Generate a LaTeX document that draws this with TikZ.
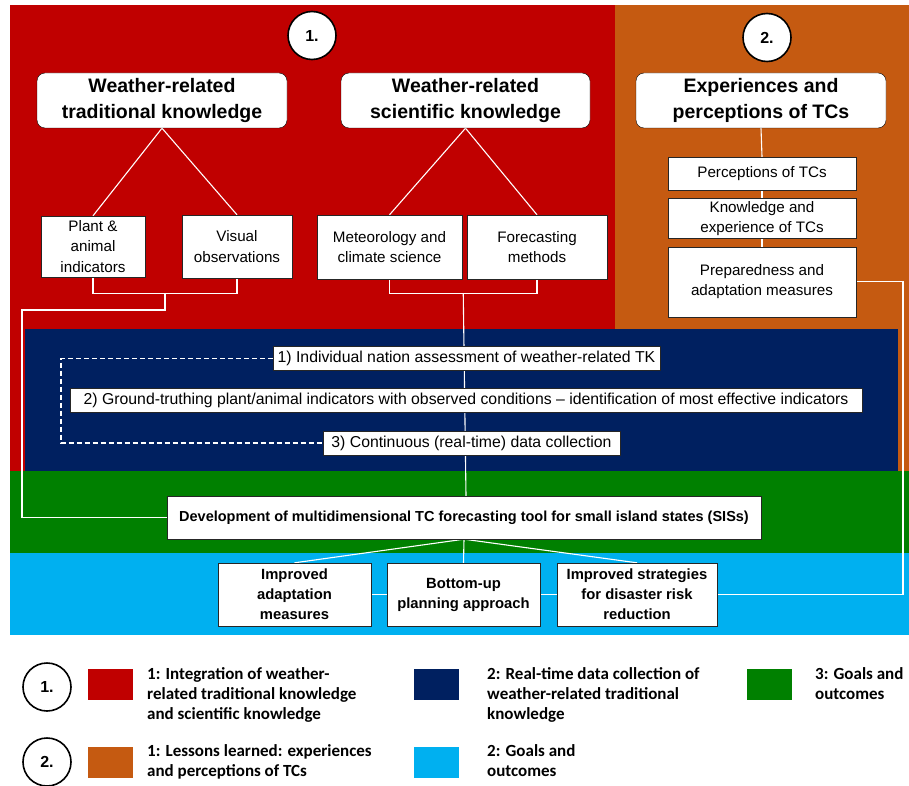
\documentclass[tikz,border=0pt]{standalone}
\usepackage{fontspec}
\setsansfont{Liberation Sans}
\newfontfamily\legendfont{Carlito}
\definecolor{tkred}{RGB}{192,0,0}
\definecolor{tcorange}{RGB}{197,90,17}
\definecolor{rtnavy}{RGB}{0,32,96}
\definecolor{goalgreen}{RGB}{0,128,0}
\definecolor{goalblue}{RGB}{0,176,240}
\tikzset{every picture/.style={/utils/exec={\sffamily}}}
\usetikzlibrary{calc}
\usetikzlibrary{positioning}
\usetikzlibrary{backgrounds}

\tikzset{
  headbox/.style={draw=black, fill=white, rounded corners=8pt, align=center,
    inner sep=2pt, font=\bfseries\fontsize{19.5}{26.5}\selectfont},
  subbox/.style={draw=black!85, fill=white, align=center, inner sep=2pt,
    font=\fontsize{15.2}{20.5}\selectfont},
  stepline/.style={subbox, font=\fontsize{15.8}{17}\selectfont, minimum height=24pt},
  goalbox/.style={subbox, font=\bfseries\fontsize{14.8}{20}\selectfont},
  wire/.style={draw=white, line width=1.1pt},
  numcirc/.style={circle, draw=black, line width=1.6pt, fill=white,
    minimum size=48pt, inner sep=0pt, font=\bfseries\fontsize{16}{18}\selectfont},
  swatch/.style={minimum width=45pt, minimum height=31pt, inner sep=0pt},
  legtext/.style={anchor=north west, align=left, inner sep=0pt,
    font=\legendfont\bfseries\fontsize{17}{20.3}\selectfont}
}

\begin{document}
\begin{tikzpicture}[x=1pt, y=-1pt]
  \useasboundingbox (0,0) rectangle (909,786);

  % headings
  \node [numcirc] (c1) at (312,35.5) {1.};
  \node [numcirc] (c2) at (767,37.5) {2.};
  \node [headbox, minimum width=250pt, minimum height=55pt] (tk) at (162,100.5) {Weather-related\\traditional knowledge};
  \node [headbox, minimum width=249pt, minimum height=55pt] (sk) at (465.5,100.5) {Weather-related\\scientific knowledge};
  \node [headbox, minimum width=250pt, minimum height=55pt] (exp) at (761,100.5) {Experiences and\\perceptions of TCs};

  % knowledge sources
  \node [subbox, minimum width=104pt, minimum height=61pt] (plant) at (93,246.5) {Plant \&\\animal\\indicators};
  \node [subbox, minimum width=110pt, minimum height=63pt] (visual) at (237,246.5) {Visual\\observations};
  \node [subbox, minimum width=145pt, minimum height=64pt] (met) at (389.5,247) {Meteorology and\\climate science};
  \node [subbox, minimum width=140pt, minimum height=64pt] (fore) at (537,247) {Forecasting\\methods};

  \node [subbox, minimum width=188pt, minimum height=33pt] (perc) at (762,173.5) {Perceptions of TCs};
  \node [subbox, minimum width=188pt, minimum height=40pt, below=8pt of perc] (know) {Knowledge and\\experience of TCs};
  \node [subbox, minimum width=188pt, minimum height=70pt, below=8pt of know] (prep) {Preparedness and\\adaptation measures};

  % real-time data collection
  \node [stepline, minimum width=387pt] (s1) at (466.5,358.5) {1) Individual nation assessment of weather-related TK};
  \node [stepline, minimum width=792pt] (s2) at (466,400) {2) Ground-truthing plant/animal indicators with observed conditions -- identification of most effective indicators};
  \node [stepline, minimum width=297pt] (s3) at (471.5,443) {3) Continuous (real-time) data collection};

  % goals and outcomes
  \node [subbox, font=\bfseries\fontsize{14.5}{16}\selectfont, minimum width=594pt, minimum height=43pt] (dev) at (464,517.5) {Development of multidimensional TC forecasting tool for small island states (SISs)};
  \node [goalbox, minimum width=153pt, minimum height=63pt] (adapt) at (294.5,594.5) {Improved\\adaptation\\measures};
  \node [goalbox, minimum width=153pt, minimum height=63pt] (bup) at (463.5,594.5) {Bottom-up\\planning approach};
  \node [goalbox, minimum width=160pt, minimum height=63pt] (strat) at (637,594.5) {Improved strategies\\for disaster risk\\reduction};

  % legend
  \node [numcirc] (l1) at (47,687) {1.};
  \node [numcirc] (l2) at (47,762) {2.};
  \node [swatch, fill=tkred] (sqred) at (110.5,684.5) {};
  \node [swatch, fill=tcorange] (sqorange) at (110.5,762) {};
  \node [swatch, fill=rtnavy] (sqnavy) at (436,684.5) {};
  \node [swatch, fill=goalblue] (sqblue) at (436,762) {};
  \node [swatch, fill=goalgreen] (sqgreen) at (769.5,684.5) {};
  \node [legtext] (t1) at (147,667) {1: Integration of weather-\\related traditional knowledge\\and scientific knowledge};
  \node [legtext] (t2) at (147,744) {1: Lessons learned: experiences\\and perceptions of TCs};
  \node [legtext] (t3) at (487,667) {2: Real-time data collection of\\weather-related traditional\\knowledge};
  \node [legtext] (t4) at (487,744) {2: Goals and\\outcomes};
  \node [legtext] (t5) at (815,667) {3: Goals and\\outcomes};

  \coordinate (tkleft) at (22,310);
  \coordinate (dashx) at (61,0);
  \coordinate (rightx) at (903,0);

  \begin{scope}[on background layer]
    % coloured regions
    \fill [tkred] (10,5) rectangle (615,472);
    \fill [tcorange] (615,5) rectangle (909,472);
    \fill [rtnavy] (25,329) rectangle (898,472);
    \fill [goalgreen] (10,471) rectangle (909,553.5);
    \fill [goalblue] (10,553) rectangle (909,635);

    \draw [wire] (tk.south) -- (plant.north);
    \draw [wire] (tk.south) -- (visual.north);
    \draw [wire] (sk.south) -- (met.north);
    \draw [wire] (sk.south) -- (fore.north);
    \draw [wire] (exp.south) -- (perc.north);
    \draw [wire] (perc.south) -- (know.north);
    \draw [wire] (know.south) -- (prep.north);

    \draw [wire] (plant.south) -- ++(0,16) -| (visual.south);
    \draw [wire] ($(plant.south)!0.5!(visual.south)+(0,16)$) |- (tkleft) |- (dev.west);
    \draw [wire] (met.south) -- ++(0,14) -| (fore.south);
    \draw [wire] ($(met.south)!0.5!(fore.south)+(0,14)$) -- (dev.north -| 466,0);
    \draw [wire, dash pattern=on 5pt off 3pt] (s1.west) -- (s1.west -| dashx) |- (s3.west);

    \draw [wire] (dev.south) -- (adapt.north);
    \draw [wire] (dev.south) -- (bup.north);
    \draw [wire] (dev.south) -- (strat.north);
    \draw [wire] (adapt.east) -- (bup.west);
    \draw [wire] (bup.east) -- (strat.west);
    \draw [wire] (prep.east) -- (prep.east -| rightx) |- (strat.east);
  \end{scope}
\end{tikzpicture}
\end{document}
